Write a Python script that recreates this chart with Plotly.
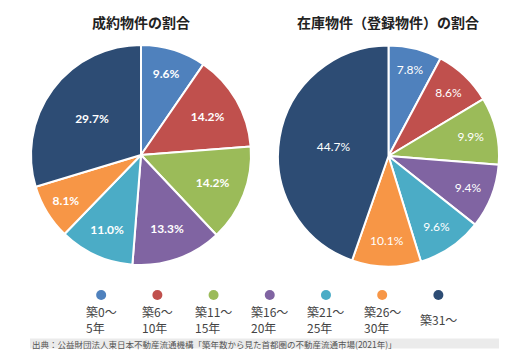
import plotly.graph_objects as go

categories = ["築0～5年", "築6～10年", "築11～15年", "築16～20年", "築21～25年", "築26～30年", "築31～"]
legend_labels = ["築0～<br>5年", "築6～<br>10年", "築11～<br>15年", "築16～<br>20年", "築21～<br>25年", "築26～<br>30年", "築31～"]
contracted = [9.6, 14.2, 14.2, 13.3, 11.0, 8.1, 29.7]
inventory = [7.8, 8.6, 9.9, 9.4, 9.6, 10.1, 44.7]
colors = ["#4F81BD", "#C0504D", "#9BBB59", "#8064A2", "#4BACC6", "#F79646", "#2D4C74"]
titles = ["成約物件の割合", "在庫物件（登録物件）の割合"]
source = "出典：公益財団法人東日本不動産流通機構「築年数から見た首都圏の不動産流通市場(2021年)」"

W, H = 512, 356
def px(x0, x1): return [x0 / W, x1 / W]
def py(top, bottom): return [1 - bottom / H, 1 - top / H]

fig = go.Figure()
fig.add_trace(go.Pie(
    labels=categories, values=contracted, sort=False, direction="clockwise", rotation=0,
    marker=dict(colors=colors, line=dict(color="white", width=2)),
    texttemplate="%{value:.1f}%", textposition="inside", insidetextorientation="horizontal",
    textfont=dict(family="Lato", size=12, color="white", weight="bold"),
    domain=dict(x=px(31, 251), y=py(45, 265)), showlegend=False, hoverinfo="label+value",
))
fig.add_trace(go.Pie(
    labels=categories, values=inventory, sort=False, direction="clockwise", rotation=0,
    marker=dict(colors=colors, line=dict(color="white", width=2)),
    texttemplate="%{value:.1f}%", textposition="inside", insidetextorientation="horizontal",
    textfont=dict(family="Lato", size=12, color="white"),
    domain=dict(x=px(278, 499), y=py(45, 267)), showlegend=False, hoverinfo="label+value",
))

# custom legend
fig.add_trace(go.Scatter(
    x=categories, y=[0] * len(categories), mode="markers",
    marker=dict(color=colors, size=10), showlegend=False, hoverinfo="skip",
))

annotations = []
for c, lab in zip(categories, legend_labels):
    annotations.append(dict(x=c, xref="x", y=1 - 319.5 / H, yref="paper", text=lab,
                            showarrow=False, xanchor="center", yanchor="middle", align="left",
                            font=dict(family="Noto Sans CJK JP", size=12, color="#444444")))
annotations.append(dict(x=141 / W, y=1 - 22 / H, xref="paper", yref="paper", text=titles[0],
                        showarrow=False, xanchor="center", yanchor="middle",
                        font=dict(family="Noto Sans CJK JP", size=14, color="#222222", weight="bold")))
annotations.append(dict(x=388 / W, y=1 - 22 / H, xref="paper", yref="paper", text=titles[1],
                        showarrow=False, xanchor="center", yanchor="middle",
                        font=dict(family="Noto Sans CJK JP", size=14, color="#222222", weight="bold")))
annotations.append(dict(x=30 / W, y=1 - 343.5 / H, xref="paper", yref="paper", text=source,
                        showarrow=False, xanchor="left", yanchor="middle",
                        font=dict(family="Noto Sans CJK JP", size=8.5, color="#555555")))

fig.update_layout(
    width=W, height=H, margin=dict(l=0, r=0, t=0, b=0),
    paper_bgcolor="white", plot_bgcolor="rgba(0,0,0,0)",
    xaxis=dict(domain=[0, 1], range=[-1.8, 7.31], visible=False, type="category",
               categoryarray=categories, fixedrange=True),
    yaxis=dict(domain=[0, 1], range=[-(H - 295) / H, 295 / H], visible=False, fixedrange=True),
    annotations=annotations,
    shapes=[dict(type="rect", xref="paper", yref="paper", x0=30 / W, x1=499 / W,
                 y0=1 - 348.5 / H, y1=1 - 338.5 / H, fillcolor="#EBEBEB", line=dict(width=0),
                 layer="below")],
)

fig.write_html("out.html", config={"displayModeBar": False},
               post_script="document.body.style.margin='0';document.body.style.overflow='hidden';")
